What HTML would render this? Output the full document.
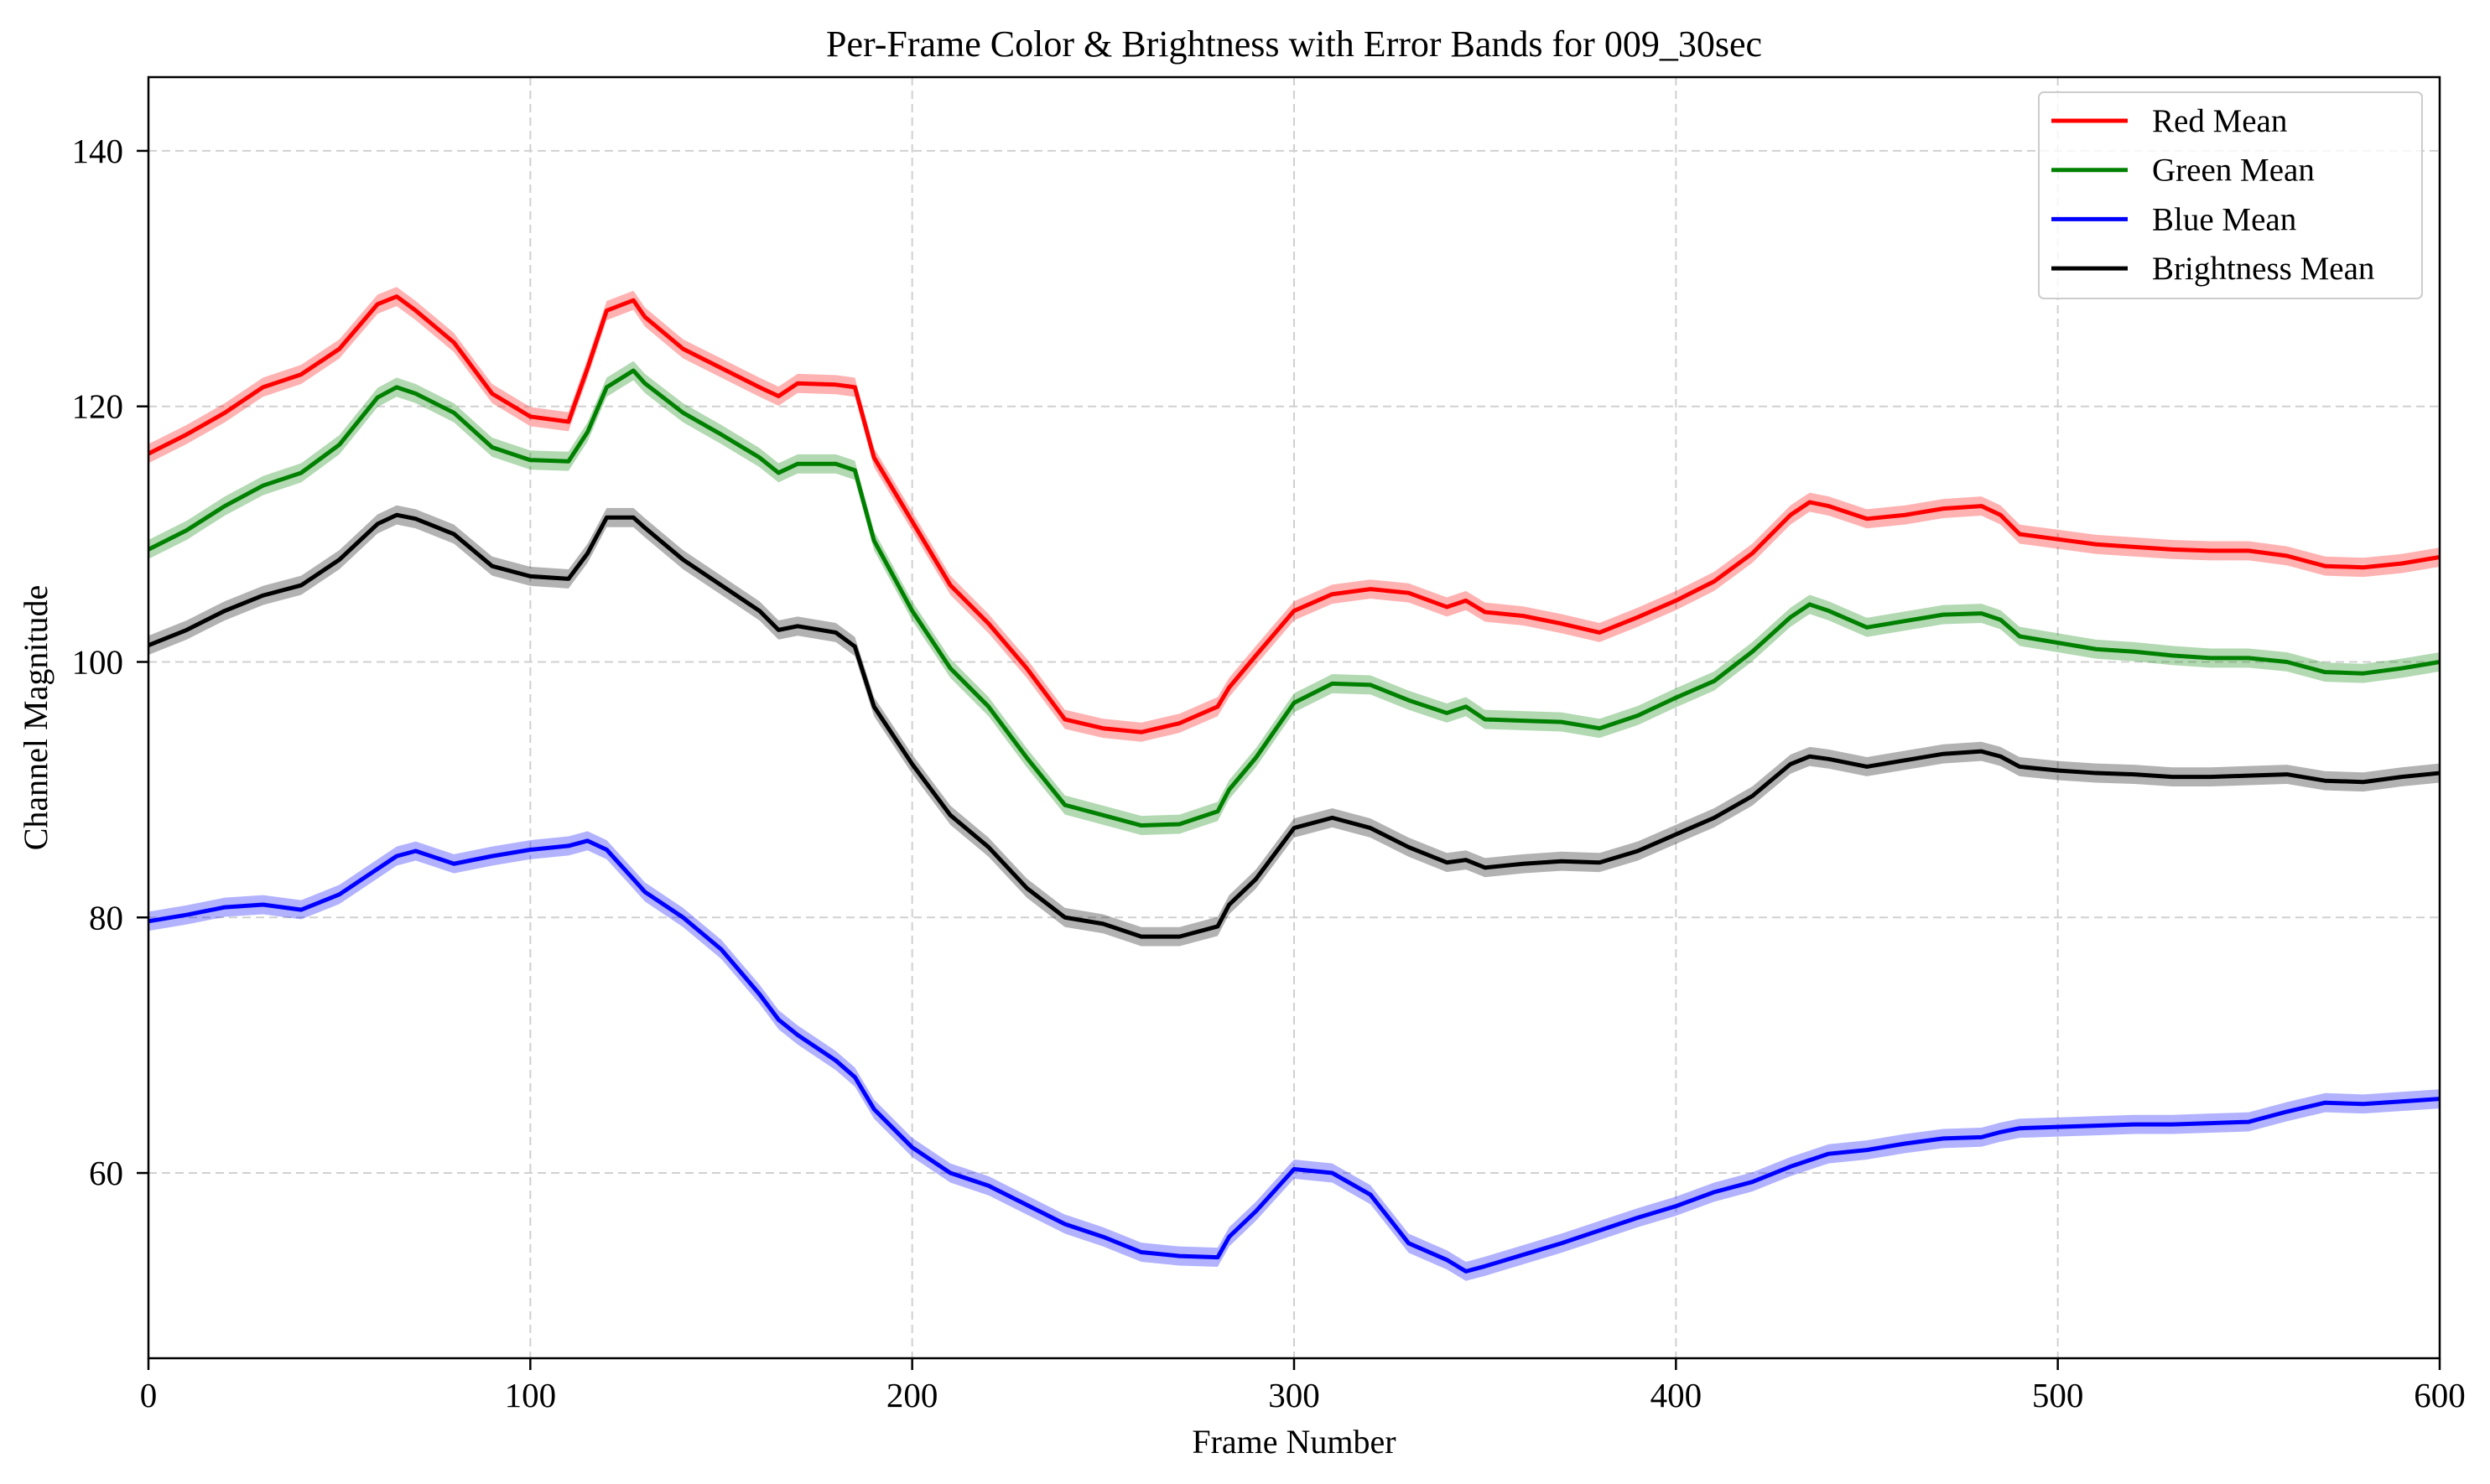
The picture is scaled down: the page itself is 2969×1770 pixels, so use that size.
<!DOCTYPE html>
<html><head><meta charset="utf-8"><style>
html,body{margin:0;padding:0;background:#fff}
svg{display:block;font-family:"Liberation Serif",serif}
</style></head><body>
<svg id="chart" width="2969" height="1770" xmlns="http://www.w3.org/2000/svg">
<text x="1543" y="67" font-size="44" text-anchor="middle">Per-Frame Color &amp; Brightness with Error Bands for 009_30sec</text>
<g id="grid"></g><g id="bands"></g><g id="lines"></g>
<rect x="177" y="92" width="2732" height="1528" fill="none" stroke="#000" stroke-width="2.5"/>
<g id="ticks"></g>
<text x="1543" y="1733" font-size="40" text-anchor="middle">Frame Number</text>
<text transform="translate(56,856) rotate(-90)" font-size="40" text-anchor="middle">Channel Magnitude</text>
<g>
<rect x="2431" y="110" width="457" height="246" rx="6" fill="#fff" fill-opacity="0.8" stroke="#ccc" stroke-width="2"/>
<g id="legend-items"></g>
</g>
</svg>
<script>
const frames=[0,10,20,30,40,50,60,65,70,80,90,100,110,115,120,127,130,140,150,160,165,170,180,185,190,200,210,220,230,240,250,260,270,280,283,290,300,310,320,330,340,345,350,360,370,380,390,400,410,420,430,435,440,450,460,470,480,485,490,500,510,520,530,540,550,560,570,580,590,600];
const redMean=[116.3,117.8,119.5,121.5,122.5,124.5,128,128.6,127.5,125,121,119.2,118.8,123,127.5,128.3,127,124.5,123,121.5,120.8,121.8,121.7,121.5,116,111,106,103,99.5,95.5,94.8,94.5,95.2,96.5,98,100.5,104,105.3,105.7,105.4,104.3,104.8,103.9,103.6,103,102.3,103.5,104.8,106.3,108.5,111.5,112.5,112.2,111.2,111.5,112,112.2,111.5,110,109.6,109.2,109,108.8,108.7,108.7,108.3,107.5,107.4,107.7,108.2];
const greenMean=[108.8,110.3,112.2,113.8,114.8,117,120.7,121.5,121,119.5,116.8,115.8,115.7,118,121.5,122.8,121.8,119.5,117.8,116,114.8,115.5,115.5,115,109.5,104,99.5,96.5,92.5,88.8,88,87.2,87.3,88.3,90,92.5,96.8,98.3,98.2,97,96,96.5,95.5,95.4,95.3,94.8,95.8,97.2,98.5,100.8,103.5,104.5,104,102.7,103.2,103.7,103.8,103.3,102,101.5,101,100.8,100.5,100.3,100.3,100,99.2,99.1,99.5,100];
const blueMean=[79.7,80.2,80.8,81,80.6,81.8,83.8,84.8,85.2,84.2,84.8,85.3,85.6,86,85.3,83,82,80,77.5,74,72,70.8,68.8,67.5,65,62,60,59,57.5,56,55,53.8,53.5,53.4,55,57,60.3,60,58.3,54.5,53.2,52.3,52.7,53.6,54.5,55.5,56.5,57.4,58.5,59.3,60.5,61,61.5,61.8,62.3,62.7,62.8,63.2,63.5,63.6,63.7,63.8,63.8,63.9,64,64.8,65.5,65.4,65.6,65.8];
const brightMean=[101.3,102.5,104,105.2,106,108,110.8,111.5,111.2,110,107.5,106.7,106.5,108.5,111.3,111.3,110.5,108,106,104,102.5,102.8,102.3,101.2,96.5,92,88,85.5,82.3,80,79.5,78.5,78.5,79.3,81,83,87,87.8,87,85.5,84.3,84.5,83.9,84.2,84.4,84.3,85.2,86.5,87.8,89.5,92,92.6,92.4,91.8,92.3,92.8,93,92.6,91.8,91.5,91.3,91.2,91,91,91.1,91.2,90.7,90.6,91,91.3];
const errBand=0.75;
const xTicks=[0,100,200,300,400,500,600];
const yTicks=[60,80,100,120,140];
const seriesNames=["Red Mean","Green Mean","Blue Mean","Brightness Mean"];

const NS="http://www.w3.org/2000/svg";
const X0=177,X1=2909,Y0=1620,Y1=92,XMIN=0,XMAX=600,YMIN=45.5,YMAX=145.77;
const sx=v=>X0+(v-XMIN)/(XMAX-XMIN)*(X1-X0);
const sy=v=>Y0-(v-YMIN)/(YMAX-YMIN)*(Y0-Y1);
function mk(t,a,p){const e=document.createElementNS(NS,t);for(const k in a)e.setAttribute(k,a[k]);p.appendChild(e);return e;}
const grid=document.getElementById('grid'),ticks=document.getElementById('ticks');
xTicks.forEach(v=>{
  const g=mk('line',{x1:sx(v),x2:sx(v),y1:Y1,y2:Y0,stroke:'#d0d0d0','stroke-width':2,'stroke-dasharray':'10,6'},grid);
  
  
  mk('line',{x1:sx(v),x2:sx(v),y1:Y0,y2:Y0+14,stroke:'#000','stroke-width':2.5},ticks);
  const t=mk('text',{x:sx(v),y:Y0+58,'font-size':41,'text-anchor':'middle'},ticks);
  t.textContent=v;
  
  
});
yTicks.forEach(v=>{
  const g=mk('line',{x1:X0,x2:X1,y1:sy(v),y2:sy(v),stroke:'#d0d0d0','stroke-width':2,'stroke-dasharray':'10,6'},grid);
  
  
  mk('line',{x1:X0-14,x2:X0,y1:sy(v),y2:sy(v),stroke:'#000','stroke-width':2.5},ticks);
  const t=mk('text',{x:X0-30,y:sy(v)+14,'font-size':41,'text-anchor':'end'},ticks);
  t.textContent=v;
  
  
});
const series=[[redMean,'#ff0000','red'],[greenMean,'#008000','green'],[blueMean,'#0000ff','blue'],[brightMean,'#000000','brightness']];
const bands=document.getElementById('bands'),lines=document.getElementById('lines'),leg=document.getElementById('legend-items');
series.forEach((s,i)=>{
  const vals=s[0];
  let up=frames.map((f,j)=>sx(f)+','+sy(vals[j]+errBand));
  let dn=frames.map((f,j)=>sx(f)+','+sy(vals[j]-errBand)).reverse();
  const b=mk('polygon',{points:up.concat(dn).join(' '),fill:s[1],'fill-opacity':0.3,stroke:'none'},bands);
  
  
  const l=mk('polyline',{points:frames.map((f,j)=>sx(f)+','+sy(vals[j])).join(' '),fill:'none',stroke:s[1],'stroke-width':5,'stroke-linejoin':'round'},lines);
  
  
  const ly=144+i*58.7;
  const ll=mk('line',{x1:2446,x2:2537,y1:ly,y2:ly,stroke:s[1],'stroke-width':5},leg);
  
  
  const lt=mk('text',{x:2566,y:ly+13,'font-size':39},leg);
  lt.textContent=seriesNames[i];
  
  
});
</script>
</body></html>
